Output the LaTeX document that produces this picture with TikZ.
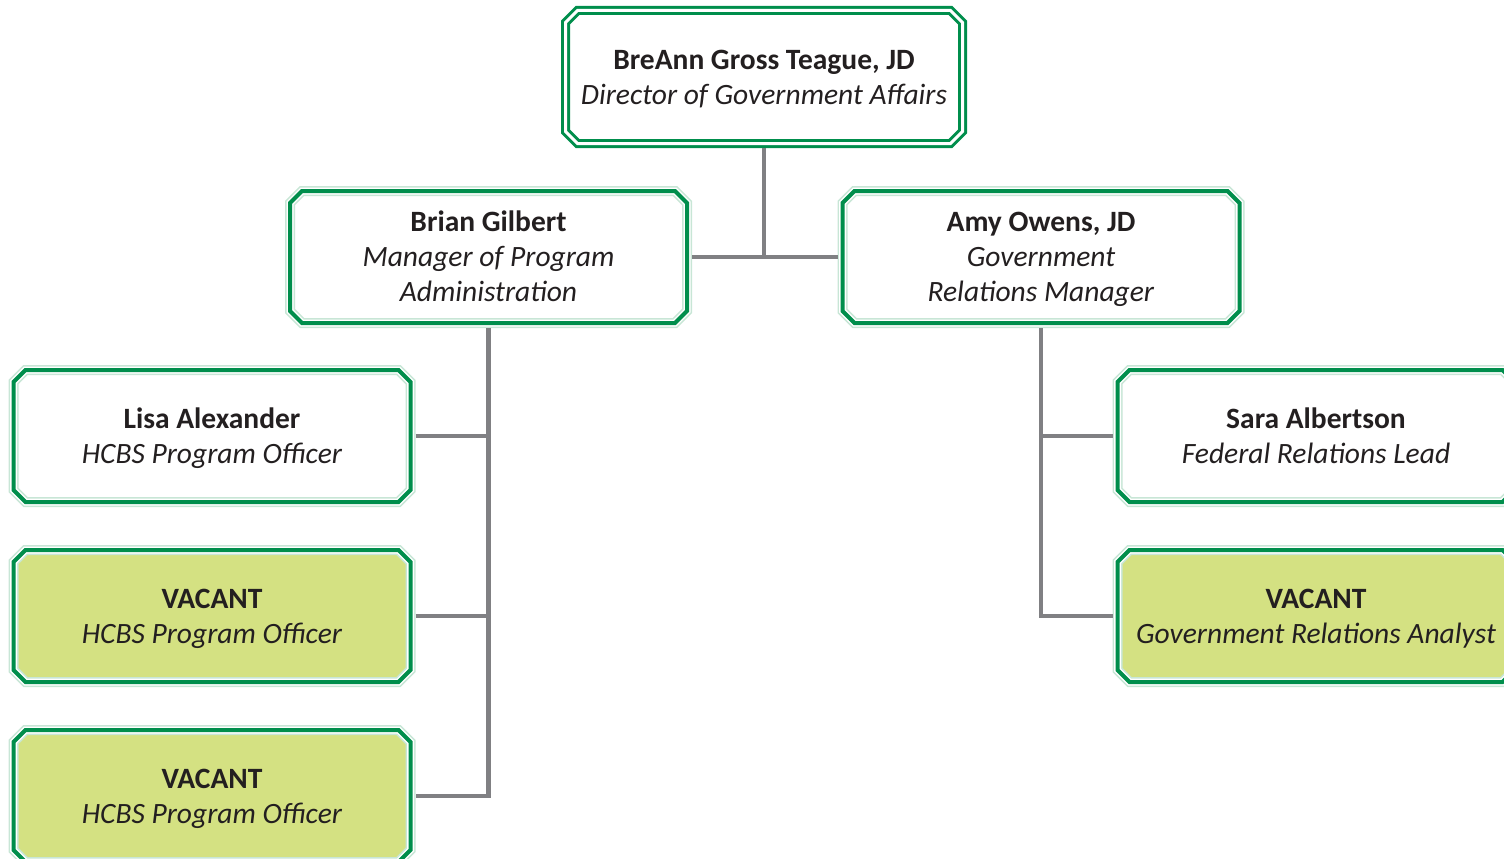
\documentclass[tikz,border=0pt]{standalone}
\usepackage{fontspec}
\setmainfont{Carlito}
\definecolor{orggreen}{RGB}{0,142,76}
\definecolor{palegreen}{RGB}{200,230,214}
\definecolor{vacfill}{RGB}{212,225,130}
\definecolor{conngray}{RGB}{128,128,131}
\definecolor{txtcol}{RGB}{35,31,32}
\newcommand\octp[4]{(#1-#3+12,#2-#4) -- (#1+#3-12,#2-#4) -- (#1+#3,#2-#4+12) -- (#1+#3,#2+#4-12) -- (#1+#3-12,#2+#4) -- (#1-#3+12,#2+#4) -- (#1-#3,#2+#4-12) -- (#1-#3,#2-#4+12) -- cycle}
\newcommand\topstrut{\rule{0pt}{29.5pt}}
\tikzset{
  boxtext/.style={align=center, text=txtcol, inner sep=0pt, outer sep=5pt,
    minimum width=397pt, minimum height=132pt,
    font=\fontsize{29.5}{35}\selectfont},
  conn/.style={draw=conngray, line width=4.5pt},
}
\newcommand\orgbox[5]{%
  \fill[#4] \octp{#2}{#3}{198.5}{66};
  \draw[palegreen, line width=10pt] \octp{#2}{#3}{198.5}{66};
  \draw[white, line width=7pt] \octp{#2}{#3}{198.5}{66};
  \draw[orggreen, line width=4pt] \octp{#2}{#3}{198.5}{66};
  \node[boxtext] (#1) at (#2,#3) {\topstrut #5\strut};
}
\begin{document}
\begin{tikzpicture}[x=1pt,y=-1pt]
\useasboundingbox (0,0) rectangle (1504,859);
\clip (0,0) rectangle (1504,859);
% top box
\fill[white] \octp{764}{77}{198.5}{66.5};
\draw[orggreen, line width=3pt, double=white, double distance=3pt] \octp{764}{77}{198.5}{66.5};
\node[boxtext, minimum width=397pt, minimum height=133pt, outer sep=4.5pt] (dir) at (764,77)
  {\topstrut\textbf{BreAnn Gross Teague, JD}\\\textit{Director of Government Affairs}\strut};
\orgbox{brian}{488.5}{257}{white}{\textbf{Brian Gilbert}\\\textit{Manager of Program}\\\textit{Administration}}
\orgbox{amy}{1041}{257}{white}{\textbf{Amy Owens, JD}\\\textit{Government}\\\textit{Relations Manager}}
\orgbox{lisa}{212}{436}{white}{\textbf{Lisa Alexander}\\\textit{HCBS Program Officer}}
\orgbox{vaca}{212}{616}{vacfill}{\textbf{VACANT}\\\textit{HCBS Program Officer}}
\orgbox{vacb}{212}{796}{vacfill}{\textbf{VACANT}\\\textit{HCBS Program Officer}}
\orgbox{sara}{1316}{436}{white}{\textbf{Sara Albertson}\\\textit{Federal Relations Lead}}
\orgbox{vacc}{1316}{616}{vacfill}{\textbf{VACANT}\\\textit{Government Relations Analyst}}
% connectors
\coordinate (j) at (dir.south |- brian.east);
\draw[conn] (dir.south) -- (j);
\draw[conn] (brian.east) -- (amy.west);
\draw[conn] (brian.south) |- (vacb.east);
\draw[conn] (lisa.east) -- (lisa.east -| brian.south);
\draw[conn] (vaca.east) -- (vaca.east -| brian.south);
\draw[conn] (amy.south) |- (vacc.west);
\draw[conn] (sara.west) -- (sara.west -| amy.south);
\end{tikzpicture}
\end{document}
